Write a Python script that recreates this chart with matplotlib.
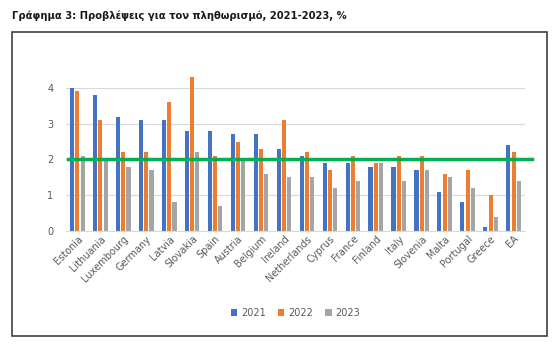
import matplotlib.pyplot as plt
import numpy as np
from matplotlib.patches import Rectangle

# Forecasts of inflation, 2021-2023 (%)
countries = ["Estonia", "Lithuania", "Luxembourg", "Germany", "Latvia", "Slovakia",
             "Spain", "Austria", "Belgium", "Ireland", "Netherlands", "Cyprus",
             "France", "Finland", "Italy", "Slovenia", "Malta", "Portugal",
             "Greece", "EA"]
y2021 = [4.0, 3.8, 3.2, 3.1, 3.1, 2.8, 2.8, 2.7, 2.7, 2.3, 2.1, 1.9, 1.9, 1.8, 1.8, 1.7, 1.1, 0.8, 0.1, 2.4]
y2022 = [3.9, 3.1, 2.2, 2.2, 3.6, 4.3, 2.1, 2.5, 2.3, 3.1, 2.2, 1.7, 2.1, 1.9, 2.1, 2.1, 1.6, 1.7, 1.0, 2.2]
y2023 = [2.1, 2.0, 1.8, 1.7, 0.8, 2.2, 0.7, 2.0, 1.6, 1.5, 1.5, 1.2, 1.4, 1.9, 1.4, 1.7, 1.5, 1.2, 0.4, 1.4]
target = 2.0

fig = plt.figure(figsize=(5.58, 3.5), dpi=100)
fig.text(0.022, 0.955, "Γράφημα 3: Προβλέψεις για τον πληθωρισμό, 2021-2023, %",
         fontsize=7.2, fontweight="bold", va="center", ha="left", color="#1a1a1a")

# chart frame
fig.patches.append(Rectangle((0.022, 0.04), 0.958, 0.868, transform=fig.transFigure,
                             fill=False, edgecolor="#404040", linewidth=1.2))

ax = fig.add_axes([0.118, 0.34, 0.823, 0.46])
x = np.arange(len(countries))
w = 0.18
ax.bar(x - 0.23, y2021, w, color="#4472C4", label="2021")
ax.bar(x, y2022, w, color="#ED7D31", label="2022")
ax.bar(x + 0.23, y2023, w, color="#A5A5A5", label="2023")

ax.axhline(target, xmin=0.005, xmax=1.015, color="#00B050", linewidth=2.5, clip_on=False, zorder=5)

ax.set_xlim(-0.5, len(countries) - 0.5)
ax.set_ylim(0, 4.5)
ax.set_yticks([0, 1, 2, 3, 4])
ax.set_xticks(x)
ax.set_xticklabels(countries, rotation=45, ha="right", rotation_mode="anchor",
                   fontsize=7, color="#595959")
ax.tick_params(axis="y", labelsize=7, labelcolor="#595959", length=0, pad=9)
ax.tick_params(axis="x", length=0, pad=2)
ax.grid(axis="y", color="#D9D9D9", linewidth=0.8)
ax.set_axisbelow(True)
for s in ["top", "right", "left"]:
    ax.spines[s].set_visible(False)
ax.spines["bottom"].set_color("#D9D9D9")

ax.legend(loc="center", bbox_to_anchor=(0.5, -0.51), ncol=3, frameon=False,
          fontsize=7, handlelength=0.7, handleheight=0.7, columnspacing=1.2,
          handletextpad=0.4, labelcolor="#595959")

fig.savefig("out.png", dpi=100)
